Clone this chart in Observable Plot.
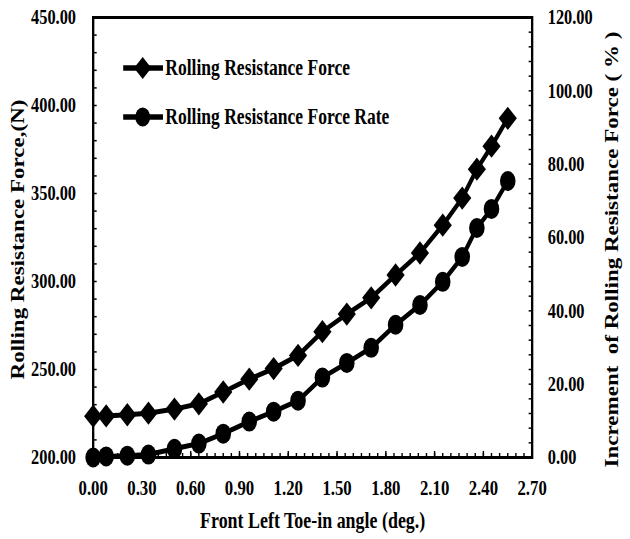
<!DOCTYPE html>
<html>
<head>
<meta charset="utf-8">
<script src="https://cdn.jsdelivr.net/npm/d3@7"></script>
<script src="https://cdn.jsdelivr.net/npm/@observablehq/plot@0.6"></script>
<style>
  html, body { margin: 0; padding: 0; background: #fff; overflow: hidden; }
  #chart svg { display: block; }
</style>
</head>
<body>
<div id="chart"></div>
<script>
// ---- data ----
const toeAngle = [0, 0.08, 0.21, 0.34, 0.5, 0.65, 0.8, 0.96, 1.11, 1.26, 1.41, 1.56, 1.71, 1.86, 2.01, 2.15, 2.27, 2.36, 2.45, 2.55];
const resistanceForce = [223.5, 223.6, 224.3, 225.2, 227.5, 230.5, 237.2, 244.5, 250.5, 258, 271.5, 281.5, 290.7, 303.7, 316.2, 332, 347.4, 363.8, 376.9, 392.7];
const forceRate = [0, 0.3, 0.5, 0.8, 2.4, 3.8, 6.5, 9.8, 12.5, 15.5, 21.8, 25.8, 29.9, 36.2, 41.6, 47.9, 54.7, 62.6, 67.8, 75.4];

const xTicks = [0, 0.3, 0.6, 0.9, 1.2, 1.5, 1.8, 2.1, 2.4, 2.7];
const yLeftTicks = [200, 250, 300, 350, 400, 450];
const yRightTicks = [0, 20, 40, 60, 80, 100, 120];

const seriesNames = ["Rolling Resistance Force", "Rolling Resistance Force Rate"];
const xTitle = "Front Left Toe-in angle (deg.)";
const yLeftTitle = "Rolling Resistance Force,(N)";
const yRightTitle = "Increment\u00a0 of Rolling Resistance Force (\u00a0%\u00a0)";

// ---- layout ----
const squeeze = 0.78;               // reference picture is horizontally compressed
const W = Math.round(630 / squeeze);
const H = 539;
const leftMin = 200, leftMax = 450, rightMax = 120;
const toLeft = v => leftMin + v * (leftMax - leftMin) / rightMax;
const fromLeft = v => (v - leftMin) * rightMax / (leftMax - leftMin);

const forceData = toeAngle.map((x, i) => ({x, y: resistanceForce[i]}));
const rateData = toeAngle.map((x, i) => ({x, y: toLeft(forceRate[i])}));

const xMinor = d3.range(0, 2.7001, 0.05);
const yLeftMinor = d3.range(200, 450.001, 10);
const yRightMinor = d3.range(0, 120.001, 4).map(toLeft);

const font = "'Liberation Serif', 'Times New Roman', serif";
const blank = () => "";

const chart = Plot.plot({
  width: W,
  height: H,
  marginLeft: 119,
  marginRight: 126,
  marginTop: 17,
  marginBottom: 82,
  x: {domain: [0, 2.7]},
  y: {domain: [leftMin, leftMax]},
  style: {fontFamily: font, fontWeight: "bold", color: "#000", background: "#fff"},
  marks: [
    Plot.frame({stroke: "#000", strokeWidth: 3}),
    // x axis ticks (inward)
    Plot.axisX(xMinor, {tickSize: -4, tickFormat: blank, strokeWidth: 1.8, label: null}),
    Plot.axisX(xTicks, {tickSize: -6, tickFormat: blank, strokeWidth: 1.8, label: null}),
    Plot.axisX(xTicks, {tickSize: 0, tickPadding: 22, tickFormat: d => d.toFixed(2), fontSize: 21.5, fontWeight: "bold", label: null}),
    // left y axis
    Plot.axisY(yLeftMinor, {anchor: "left", tickSize: -5, tickFormat: blank, strokeWidth: 1.5, label: null}),
    Plot.axisY(yLeftTicks, {anchor: "left", tickSize: 0, tickPadding: 22, tickFormat: d => d.toFixed(2), fontSize: 21, fontWeight: "bold", label: null}),
    // right y axis
    Plot.axisY(yRightMinor, {anchor: "right", tickSize: -5, tickFormat: blank, strokeWidth: 1.5, label: null}),
    Plot.axisY(yRightTicks.map(toLeft), {anchor: "right", tickSize: 0, tickPadding: 20, tickFormat: d => fromLeft(d).toFixed(2), fontSize: 21, fontWeight: "bold", label: null}),
    // titles
    Plot.text([xTitle], {frameAnchor: "bottom", lineAnchor: "middle", textAnchor: "middle", dy: 63, fontSize: 23, fontWeight: "bold"}),
    Plot.text([yLeftTitle], {frameAnchor: "left", textAnchor: "middle", lineAnchor: "middle", rotate: -90, dx: -96, dy: 2, fontSize: 23, fontWeight: "bold"}),
    Plot.text([yRightTitle], {frameAnchor: "right", textAnchor: "middle", lineAnchor: "middle", rotate: -90, dx: 103, dy: 12, fontSize: 23, fontWeight: "bold"}),
    // series
    Plot.line(forceData, {x: "x", y: "y", stroke: "#000", strokeWidth: 5, strokeLinejoin: "round"}),
    Plot.dot(forceData, {x: "x", y: "y", symbol: "diamond2", r: 10.5, fill: "#000"}),
    Plot.line(rateData, {x: "x", y: "y", stroke: "#000", strokeWidth: 5, strokeLinejoin: "round"}),
    Plot.dot(rateData, {x: "x", y: "y", symbol: "circle", r: 10, fill: "#000"})
  ]
});

// legend inside the plot (top-left)
const svg = d3.select(chart);
const legendSymbols = [d3.symbolDiamond2, d3.symbolCircle];
const legendSizes = [10, 9.5];
const lg = svg.append("g").attr("class", "legend");
seriesNames.forEach((name, i) => {
  const cy = 68 + i * 49;
  const g = lg.append("g").attr("transform", `translate(0,${cy})`);
  g.append("line").attr("x1", 158).attr("x2", 209).attr("y1", 0).attr("y2", 0)
    .attr("stroke", "#000").attr("stroke-width", 5.5);
  g.append("path").attr("transform", "translate(183,0)")
    .attr("d", d3.symbol(legendSymbols[i], Math.PI * legendSizes[i] * legendSizes[i])()).attr("fill", "#000");
  g.append("text").attr("x", 212).attr("y", 0).attr("dy", "0.32em")
    .attr("text-anchor", "start")
    .attr("font-size", 22.5).attr("font-weight", "bold").attr("font-family", font)
    .attr("fill", "#000").text(name);
});

// compress horizontally to the reference's aspect
chart.setAttribute("width", 630);
chart.setAttribute("height", H);
chart.setAttribute("viewBox", `0 0 ${W} ${H}`);
chart.setAttribute("preserveAspectRatio", "none");
document.getElementById("chart").appendChild(chart);
</script>
</body>
</html>
